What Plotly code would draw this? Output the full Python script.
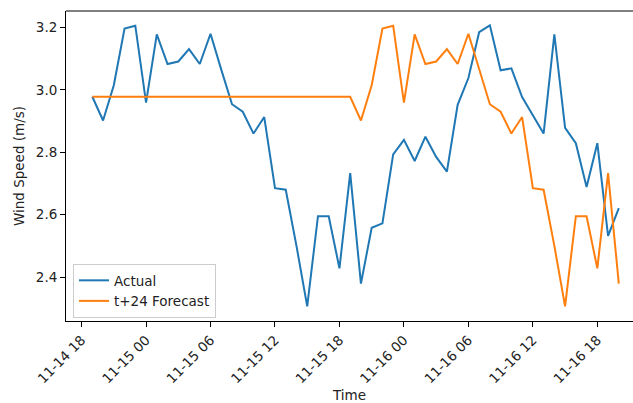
import pandas as pd
import plotly.graph_objects as go

# Hourly observations, 11-14 19:00 through 11-16 20:00
start_time = "2023-11-14 19:00"
n_hours = 50
times = pd.date_range(start_time, periods=n_hours, freq="h")

actual = [2.978, 2.902, 3.015, 3.197, 3.206, 2.959, 3.178, 3.083, 3.091, 3.131,
          3.083, 3.180, 3.065, 2.954, 2.930, 2.860, 2.913, 2.685, 2.680, 2.500,
          2.306, 2.595, 2.595, 2.428, 2.733, 2.379, 2.558, 2.572, 2.793, 2.840,
          2.772, 2.850, 2.785, 2.738, 2.952, 3.038, 3.185, 3.207, 3.063, 3.069,
          2.977, 2.918, 2.860, 3.178, 2.878, 2.829, 2.689, 2.829, 2.532, 2.621]

forecast = [2.978, 2.978, 2.978, 2.978, 2.978, 2.978, 2.978, 2.978, 2.978, 2.978,
            2.978, 2.978, 2.978, 2.978, 2.978, 2.978, 2.978, 2.978, 2.978, 2.978,
            2.978, 2.978, 2.978, 2.978, 2.978, 2.902, 3.015, 3.197, 3.206, 2.959,
            3.178, 3.083, 3.091, 3.131, 3.083, 3.180, 3.065, 2.954, 2.930, 2.860,
            2.913, 2.685, 2.680, 2.500, 2.306, 2.595, 2.595, 2.428, 2.733, 2.379]

y_ticks = [2.4, 2.6, 2.8, 3.0, 3.2]

BLUE = "#1f77b4"
ORANGE = "#ff7f0e"
FONT = dict(family="DejaVu Sans", size=13.5, color="#222222")

fig = go.Figure()
fig.add_trace(go.Scatter(x=times, y=actual, mode="lines", name="Actual",
                         line=dict(color=BLUE, width=2)))
fig.add_trace(go.Scatter(x=times, y=forecast, mode="lines", name="t+24 Forecast",
                         line=dict(color=ORANGE, width=2)))

# x range: 5% padding on the left, the visible window ends before the right pad
x_left = times[0] - pd.Timedelta(hours=2.45)
x_right = x_left + pd.Timedelta(hours=52.77)

fig.update_layout(
    width=633, height=403,
    margin=dict(l=66, r=0, t=11, b=74),
    paper_bgcolor="white", plot_bgcolor="white",
    font=FONT,
    showlegend=True,
    legend=dict(x=0.0123, y=0.0095, xanchor="left", yanchor="bottom",
                bgcolor="rgba(255,255,255,0.8)", bordercolor="#cccccc",
                borderwidth=1, font=FONT, traceorder="normal",
                entrywidth=148, entrywidthmode="pixels"),
    xaxis=dict(
        range=[x_left, x_right],
        tick0="2023-11-14 18:00", dtick=6 * 3600 * 1000,
        tickformat="%m-%d %H", tickangle=-45,
        showgrid=False, zeroline=False,
        showline=True, linecolor="black", linewidth=1,
        ticks="outside", ticklen=5, tickcolor="black",
        title=dict(text="Time", standoff=7, font=FONT),
    ),
    yaxis=dict(
        range=[2.259, 3.253],
        tickvals=y_ticks, tickformat=".1f",
        showgrid=False, zeroline=False,
        showline=True, linecolor="black", linewidth=1,
        ticks="outside", ticklen=5, tickcolor="black",
        title=dict(text="Wind Speed (m/s)", standoff=8, font=FONT),
    ),
    shapes=[dict(type="line", xref="paper", yref="paper",
                 x0=0, x1=1, y0=1, y1=1,
                 line=dict(color="black", width=1))],
)

fig.write_html("out.html")
